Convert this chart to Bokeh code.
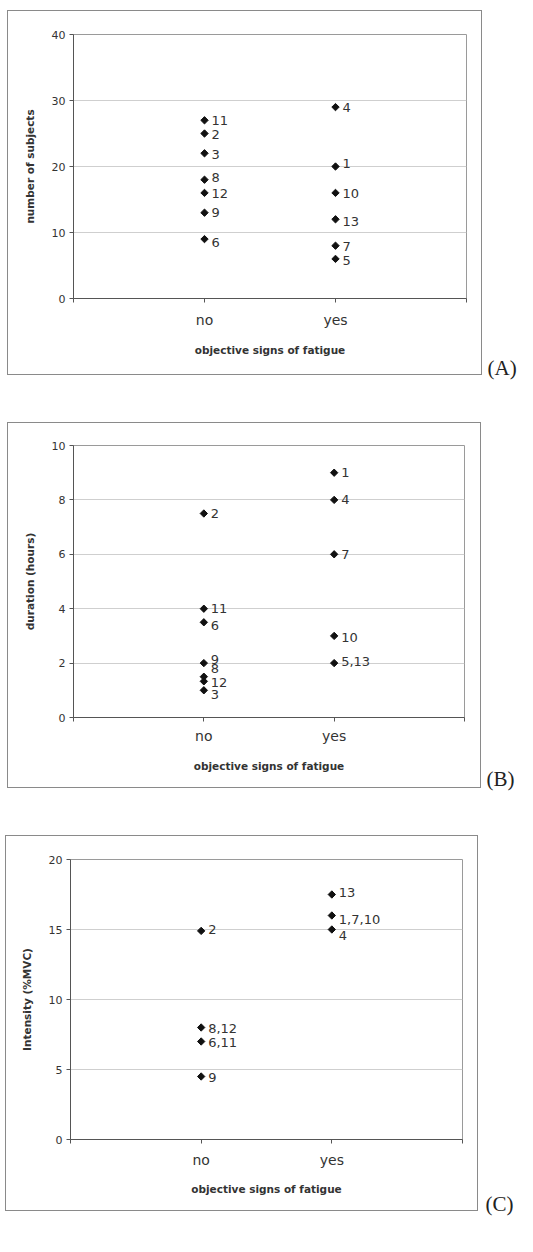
import math
from bokeh.plotting import figure
from bokeh.layouts import column, row, Spacer
from bokeh.models import ColumnDataSource, FixedTicker, Range1d
from bokeh.core.properties import value
from bokeh.embed import file_html
from bokeh.resources import INLINE

# ---- data ----
categories = ["no", "yes"]
x_tick_labels = {0: "", 1: "no", 2: "yes", 3: ""}

a_group = ["no"] * 7 + ["yes"] * 6
a_ids = ["11", "2", "3", "8", "12", "9", "6", "4", "1", "10", "13", "7", "5"]
a_vals = [27, 25, 22, 18, 16, 13, 9, 29, 20, 16, 12, 8, 6]
a_yticks = [0, 10, 20, 30, 40]

b_group = ["no"] * 7 + ["yes"] * 5
b_ids = ["2", "11", "6", "9", "8", "12", "3", "1", "4", "7", "10", "5,13"]
b_vals = [7.5, 4, 3.5, 2, 1.5, 1.33, 1, 9, 8, 6, 3, 2]
b_yticks = [0, 2, 4, 6, 8, 10]

c_group = ["no"] * 4 + ["yes"] * 3
c_ids = ["2", "8,12", "6,11", "9", "13", "1,7,10", "4"]
c_vals = [14.9, 8, 7, 4.5, 17.5, 16, 15]
c_yticks = [0, 5, 10, 15, 20]

# label vertical nudges (screen px, layout only)
a_dy = [0, 1, 1, -2, 1, 0, 3, 0, -3, 1, 2, 1, 2]
b_dy = [0, 0, 3, -4, -8, 1, 4, 0, 0, 0, 2, -2]
c_dy = [-1, 1, 1, 1, -2, 4, 6]

FONT = "DejaVu Sans"


def panel(group, ids, vals, dys, yticks, ylabel, g):
    W, H = g["w"], g["h"]
    p = figure(width=W, height=H, output_backend="svg", toolbar_location=None,
               x_range=Range1d(0, 3), y_range=Range1d(0, yticks[-1]),
               min_border_left=g["fl"], min_border_right=W - g["fr"],
               min_border_top=g["ft"], min_border_bottom=H - g["fb"],
               styles={"border": "1px solid #8a8a8a", "box-sizing": "border-box"})
    p.background_fill_color = "white"
    p.border_fill_color = "white"
    p.outline_line_color = "#9a9a9a"
    p.outline_line_width = 1

    pos = {c: i + 1 for i, c in enumerate(categories)}
    src = ColumnDataSource(dict(x=[pos[c] for c in group], y=vals, t=ids, dy=dys))
    p.scatter("x", "y", source=src, marker="square", angle=math.pi / 4, size=5.2,
              color="#111111")
    p.text("x", "y", text="t", source=src, x_offset=7, y_offset="dy",
           text_align="left", text_baseline="middle",
           text_font=value(FONT), text_font_size="13px", text_color="#333333")

    p.xgrid.visible = False
    p.ygrid.grid_line_color = "#cfcfcf"
    p.ygrid.grid_line_width = 1

    xa = p.xaxis[0]
    xa.ticker = FixedTicker(ticks=[0, 1, 2, 3])
    xa.major_label_overrides = x_tick_labels
    xa.major_label_text_font = FONT
    xa.major_label_text_font_size = "14px"
    xa.major_label_text_color = "#333333"
    xa.major_label_standoff = g["xs"]
    xa.axis_label = "objective signs of fatigue"
    xa.axis_label_text_font = FONT
    xa.axis_label_text_font_size = "10.5px"
    xa.axis_label_text_font_style = "bold"
    xa.axis_label_text_color = "#333333"
    xa.axis_label_standoff = g["xls"]

    ya = p.yaxis[0]
    ya.ticker = FixedTicker(ticks=yticks)
    ya.major_label_text_font = FONT
    ya.major_label_text_font_size = "11px"
    ya.major_label_text_color = "#333333"
    ya.major_label_standoff = 4
    ya.axis_label = ylabel
    ya.axis_label_text_font = FONT
    ya.axis_label_text_font_size = "10.5px"
    ya.axis_label_text_font_style = "bold"
    ya.axis_label_text_color = "#333333"
    ya.axis_label_standoff = 13

    for ax in (xa, ya):
        ax.axis_line_color = "#555555"
        ax.major_tick_line_color = "#555555"
        ax.major_tick_in = 0
        ax.major_tick_out = 4
        ax.minor_tick_line_color = None
    return p


def letter_fig(letter, lx):
    q = figure(width=50, height=30, output_backend="svg", toolbar_location=None,
               x_range=Range1d(0, 50), y_range=Range1d(30, 0),
               min_border=0, outline_line_color=None)
    q.axis.visible = False
    q.grid.visible = False
    q.background_fill_color = "white"
    q.border_fill_color = "white"
    q.text(x=[lx], y=[15], text=[letter], text_align="left", text_baseline="middle",
           text_font=value("Liberation Serif"), text_font_size="21px",
           text_color="#222222")
    return q


ga = dict(w=475, h=365, fl=65, fr=458, ft=23, fb=287, xs=9, xls=13)
gb = dict(w=474, h=366, fl=65, fr=456, ft=22, fb=294, xs=6, xls=13)
gc = dict(w=473, h=376, fl=64, fr=456, ft=23, fb=303, xs=8, xls=12)

pa = panel(a_group, a_ids, a_vals, a_dy, a_yticks, "number of subjects", ga)
pb = panel(b_group, b_ids, b_vals, b_dy, b_yticks, "duration (hours)", gb)
pc = panel(c_group, c_ids, c_vals, c_dy, c_yticks, "Intensity (%MVC)", gc)

# letter columns are 372 / 371 / 383 tall (a bit taller than their panels)
la = column(Spacer(height=342), letter_fig("(A)", 5), spacing=0)
lb = column(Spacer(height=341), letter_fig("(B)", 5), spacing=0)
lc = column(Spacer(height=353), letter_fig("(C)", 7), spacing=0)

layout = column(
    Spacer(height=10),
    row(Spacer(width=7), pa, la, spacing=0),
    Spacer(height=40),
    row(Spacer(width=7), pb, lb, spacing=0),
    Spacer(height=42),
    row(Spacer(width=5), pc, lc, spacing=0),
    spacing=0,
)
open("out.html", "w").write(file_html(layout, INLINE))
